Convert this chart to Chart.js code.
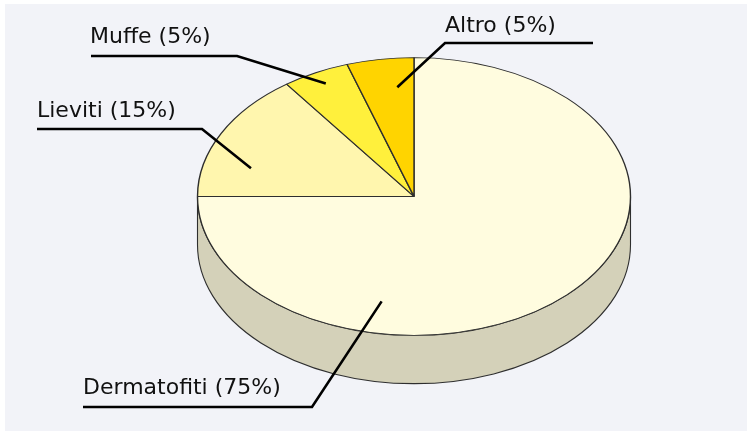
<!DOCTYPE html>
<html>
<head>
<meta charset="utf-8">
<title>Distribuzione</title>
<script src="https://cdn.jsdelivr.net/npm/chart.js@4.4.0/dist/chart.umd.min.js"></script>
<style>
  html, body { margin: 0; padding: 0; background: #fff; }
  #wrap { width: 747px; height: 433px; }
</style>
</head>
<body>
<div id="wrap"><canvas id="pie" width="747" height="433"></canvas></div>
<script>
// --- data ---
const categories = ['Dermatofiti', 'Lieviti', 'Muffe', 'Altro'];
const shares = [75, 15, 5, 5];
const labelTexts = ['Dermatofiti (75%)', 'Lieviti (15%)', 'Muffe (5%)', 'Altro (5%)'];

// --- look ---
const sliceColors = ['#FFFCDF', '#FFF6AE', '#FFF03C', '#FFD400'];
const TILT = 0.6415;        // vertical squash of the disc
const DEPTH = 0.223;        // side height, as a share of the radius
const WALL_SHADE = 0.83;

// callout layout: where the text sits, and where the leader touches the slice
// (anchor given as angle in degrees + share of the radius)
const callouts = [
  { x: 83,  base: 394, lineY: 407, x1: 83,  x2: 312, elbow: 'right', angle: 101.2, r: 0.77 },
  { x: 37,  base: 117, lineY: 129, x1: 37,  x2: 202, elbow: 'right', angle: -164.9, r: 0.78 },
  { x: 90,  base: 43,  lineY: 56,  x1: 91,  x2: 237, elbow: 'right', angle: -116.6, r: 0.91 },
  { x: 445, base: 32,  lineY: 43,  x1: 445, x2: 593, elbow: 'left',  angle: -95.6, r: 0.79 }
];

function shade(hex, f) {
  const n = parseInt(hex.slice(1), 16);
  const r = Math.round(((n >> 16) & 255) * f);
  const g = Math.round(((n >> 8) & 255) * f);
  const b = Math.round((n & 255) * f);
  return `rgb(${r},${g},${b})`;
}

const panelBg = {
  id: 'panelBg',
  beforeDraw(chart) {
    const { ctx, width, height } = chart;
    ctx.save();
    ctx.fillStyle = '#F2F3F8';
    ctx.fillRect(5, 4, width - 5, height - 6);
    ctx.restore();
  }
};

// draws the extruded side, then squashes the pie into an ellipse
const tilt3d = {
  id: 'tilt3d',
  beforeDatasetsDraw(chart) {
    const ctx = chart.ctx;
    const arcs = chart.getDatasetMeta(0).data;
    if (!arcs.length) return;
    const cx = arcs[0].x, cy = arcs[0].y, rx = arcs[0].outerRadius;
    const ry = rx * TILT, d = rx * DEPTH;

    ctx.save();
    ctx.lineWidth = 1.1;
    ctx.strokeStyle = '#2e2e2e';
    arcs.forEach((a, i) => {
      [0, -2 * Math.PI, 2 * Math.PI].forEach(shift => {
        const s = Math.max(a.startAngle + shift, 0);
        const e = Math.min(a.endAngle + shift, Math.PI);
        if (e <= s) return;
        ctx.beginPath();
        ctx.ellipse(cx, cy, rx, ry, 0, s, e);
        ctx.lineTo(cx + rx * Math.cos(e), cy + ry * Math.sin(e) + d);
        ctx.ellipse(cx, cy + d, rx, ry, 0, e, s, true);
        ctx.closePath();
        ctx.fillStyle = shade(sliceColors[i], WALL_SHADE);
        ctx.fill();
        ctx.stroke();
      });
    });
    ctx.restore();

    ctx.save();
    ctx.translate(cx, cy);
    ctx.scale(1, TILT);
    ctx.translate(-cx, -cy);
  },
  afterDatasetsDraw(chart) {
    chart.ctx.restore();
  }
};

const leaderLabels = {
  id: 'leaderLabels',
  afterDraw(chart) {
    const ctx = chart.ctx;
    const arcs = chart.getDatasetMeta(0).data;
    if (!arcs.length) return;
    const cx = arcs[0].x, cy = arcs[0].y, rx = arcs[0].outerRadius;
    const ry = rx * TILT;

    ctx.save();
    ctx.font = '22px "DejaVu Sans", Verdana, sans-serif';
    ctx.fillStyle = '#111';
    ctx.textBaseline = 'alphabetic';
    ctx.strokeStyle = '#000';
    ctx.lineWidth = 2.6;
    ctx.lineCap = 'butt';
    callouts.forEach((c, i) => {
      const t = c.angle * Math.PI / 180;
      const ax = cx + rx * c.r * Math.cos(t);
      const ay = cy + ry * c.r * Math.sin(t);
      ctx.beginPath();
      if (c.elbow === 'right') {
        ctx.moveTo(c.x1, c.lineY);
        ctx.lineTo(c.x2, c.lineY);
      } else {
        ctx.moveTo(c.x2, c.lineY);
        ctx.lineTo(c.x1, c.lineY);
      }
      ctx.lineTo(ax, ay);
      ctx.stroke();
      ctx.fillText(labelTexts[i], c.x, c.base);
    });
    ctx.restore();
  }
};

new Chart(document.getElementById('pie'), {
  type: 'pie',
  data: {
    labels: categories,
    datasets: [{
      data: shares,
      backgroundColor: sliceColors,
      borderColor: '#2e2e2e',
      borderWidth: 1.4
    }]
  },
  options: {
    responsive: false,
    animation: false,
    radius: 216.5,
    layout: { padding: { left: 81, right: 0, top: 0, bottom: 40 } },
    plugins: {
      legend: { display: false },
      tooltip: { enabled: false }
    }
  },
  plugins: [panelBg, tilt3d, leaderLabels]
});
</script>
</body>
</html>
